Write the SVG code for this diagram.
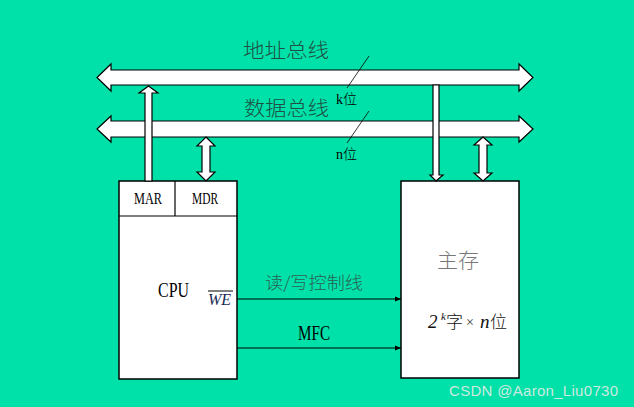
<svg xmlns="http://www.w3.org/2000/svg" width="634" height="407" viewBox="0 0 634 407">
<defs>
<style>
.bus{fill:#fff;stroke:#000;stroke-width:1.2}
.box{fill:#fff;stroke:#000;stroke-width:1.5}
.ln{stroke:#000;stroke-width:1.2;fill:none}
.thin{stroke:#000;stroke-width:0.8;fill:none}
.serif{font-family:"Liberation Serif","Noto Sans CJK SC",serif}
.cjk{font-family:"Noto Sans CJK SC","Liberation Serif",sans-serif;font-weight:300}
</style>
<marker id="ah" viewBox="0 0 10 10" refX="10" refY="5" markerWidth="6" markerHeight="6" markerUnits="userSpaceOnUse" orient="auto">
<path d="M0,1 L10,5 L0,9 Z" fill="#000"/>
</marker>
</defs>
<rect x="0" y="0" width="634" height="407" fill="#00E1A9"/>

<g id="address-bus">
<polygon class="bus" points="97,77.5 111,64 111,70 519,70 519,64 533,77.5 519,91 519,85 111,85 111,91"/>
<text x="243" y="57.5" class="cjk" font-size="20" fill="#1f4f42" textLength="86" lengthAdjust="spacingAndGlyphs">地址总线</text>
</g>
<g id="data-bus">
<polygon class="bus" points="97,129 111,116 111,121 519,121 519,116 533,129 519,142 519,137 111,137 111,142"/>
<text x="244" y="115.5" class="cjk" font-size="20" fill="#1f4f42" textLength="85" lengthAdjust="spacingAndGlyphs">数据总线</text>
</g>

<g id="cpu">
<rect class="box" x="119" y="181" width="118" height="198"/>
<line class="ln" x1="175" y1="181" x2="175" y2="216"/>
<line class="ln" x1="119" y1="216" x2="237" y2="216"/>
<text x="134" y="204" class="serif" font-size="16" textLength="28" lengthAdjust="spacingAndGlyphs">MAR</text>
<text x="192" y="204" class="serif" font-size="16" textLength="26" lengthAdjust="spacingAndGlyphs">MDR</text>
<text x="158" y="297" class="serif" font-size="20" textLength="31" lengthAdjust="spacingAndGlyphs">CPU</text>
<text x="208" y="305" class="serif" font-size="16" font-style="italic" fill="#1a2a55">WE</text>
<line x1="208" y1="291" x2="233" y2="291" stroke="#000" stroke-width="1"/>
</g>

<g id="memory">
<rect class="box" x="401" y="181" width="118" height="197"/>
<text x="437" y="268" class="cjk" font-size="20" fill="#777" textLength="42" lengthAdjust="spacingAndGlyphs">主存</text>
<text x="428" y="328" class="serif" font-size="19" font-style="italic" fill="#111">2</text>
<text x="441" y="320" class="serif" font-size="11" font-style="italic" fill="#111">k</text>
<text x="446" y="328" class="cjk" font-size="17" fill="#111">字</text>
<text x="466" y="327" class="serif" font-size="14" fill="#333">×</text>
<text x="480" y="328" class="serif" font-size="19" font-style="italic" fill="#111">n</text>
<text x="490" y="328" class="cjk" font-size="17" fill="#111">位</text>
</g>

<g id="connectors">
<polygon class="bus" points="148.5,86 158,93 152,93 152,181 145,181 145,93 139,93"/>
<polygon class="bus" points="206,137 215,146 210,146 210,172 215,172 206,181 197,172 202,172 202,146 197,146"/>
<polygon class="bus" points="433,85 439,85 439,175 443,175 436,181 430,175 433,175"/>
<polygon class="bus" points="483,137 492,145 487,145 487,173 492,173 483,181 474,173 479,173 479,145 474,145"/>
<line class="thin" x1="369" y1="56" x2="347" y2="88"/>
<line class="thin" x1="369" y1="111" x2="347" y2="143"/>
<line class="ln" x1="237" y1="299" x2="401" y2="299" marker-end="url(#ah)"/>
<line class="ln" x1="237" y1="348" x2="401" y2="348" marker-end="url(#ah)"/>
</g>

<g id="labels">
<text x="336" y="104" class="serif" font-size="14">k<tspan class="cjk" font-size="14">位</tspan></text>
<text x="336" y="159" class="serif" font-size="14">n<tspan class="cjk" font-size="14">位</tspan></text>
<text x="265" y="289" class="cjk" font-size="17" fill="#2c5f52" textLength="98" lengthAdjust="spacingAndGlyphs">读/写控制线</text>
<text x="298" y="340" class="serif" font-size="20" textLength="32" lengthAdjust="spacingAndGlyphs">MFC</text>
<text x="449" y="396" font-family="Liberation Sans, Arial, sans-serif" font-size="15" fill="#cde9df" textLength="169">CSDN @Aaron_Liu0730</text>
</g>
</svg>
